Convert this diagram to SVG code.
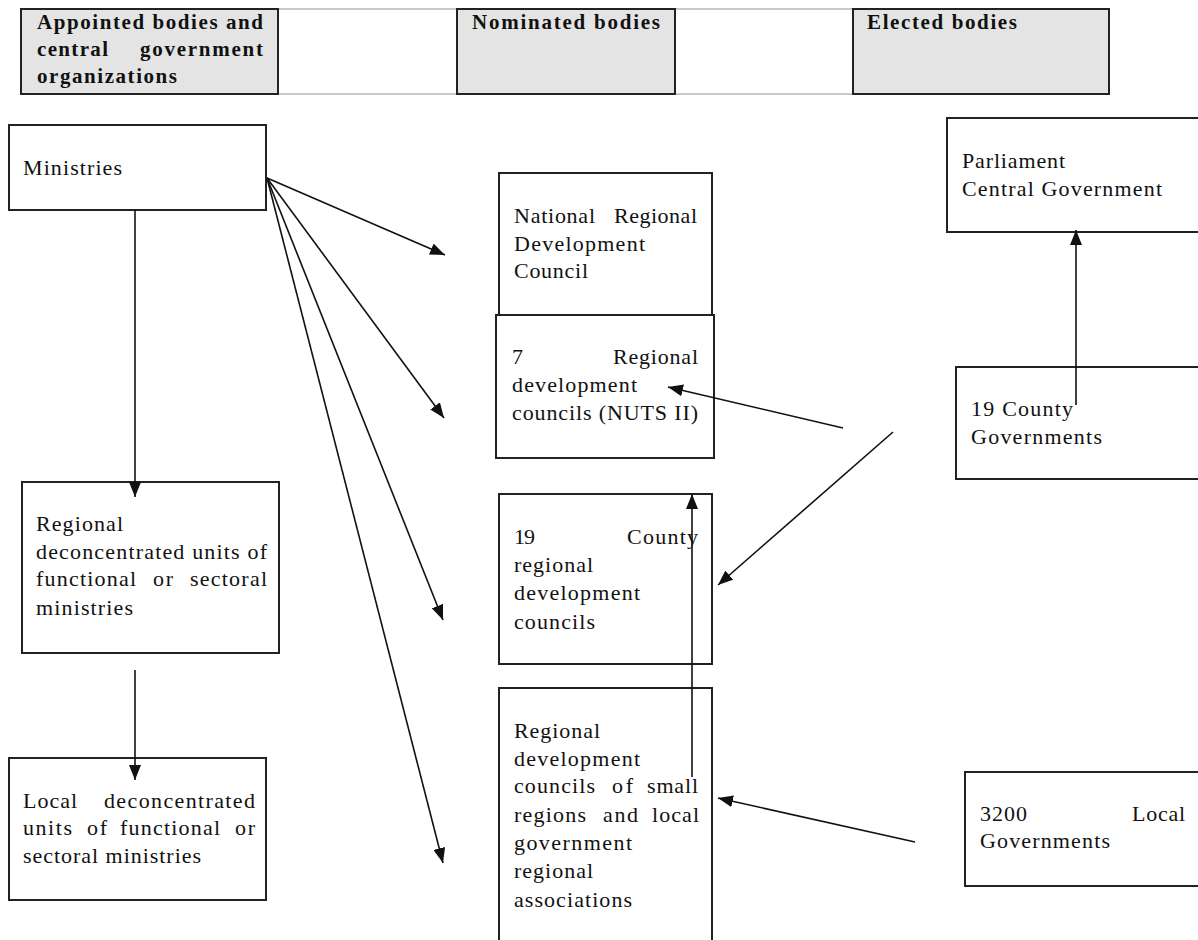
<svg xmlns="http://www.w3.org/2000/svg" width="1198" height="940" viewBox="0 0 1198 940">
<style>
.hdr{fill:#e4e4e4;stroke:#222;stroke-width:2}
.box{fill:#fff;stroke:#222;stroke-width:2}
.gl{stroke:#c8c8c8;stroke-width:2}
.ht{font-family:"Liberation Serif",serif;font-size:21px;font-weight:bold;fill:#111}
.t{font-family:"Liberation Serif",serif;font-size:22px;fill:#111}
.c{stroke:#111;stroke-width:1.6;fill:none;marker-end:url(#ah)}
</style>
<defs>
<marker id="ah" markerUnits="userSpaceOnUse" markerWidth="16" markerHeight="12" refX="15" refY="6" orient="auto">
<path d="M0,0 L15,6 L0,12 z" fill="#111"/>
</marker>
</defs>
<rect width="1198" height="940" fill="#fff"/>
<g id="header-lines">
<line class="gl" x1="278" y1="9" x2="457" y2="9"/>
<line class="gl" x1="278" y1="94" x2="457" y2="94"/>
<line class="gl" x1="675" y1="9" x2="853" y2="9"/>
<line class="gl" x1="675" y1="94" x2="853" y2="94"/>
</g>
<g id="hdr-appointed">
<rect class="hdr" x="21" y="9" width="257" height="85"/>
<text class="ht" x="37" y="29" textLength="226" lengthAdjust="spacing">Appointed bodies and</text>
<text class="ht" x="37" y="56" textLength="71" lengthAdjust="spacing">central</text>
<text class="ht" x="140" y="56" textLength="123" lengthAdjust="spacing">government</text>
<text class="ht" x="37" y="83" textLength="140" lengthAdjust="spacing">organizations</text>
</g>
<g id="hdr-nominated">
<rect class="hdr" x="457" y="9" width="218" height="85"/>
<text class="ht" x="472" y="29" textLength="188" lengthAdjust="spacing">Nominated bodies</text>
</g>
<g id="hdr-elected">
<rect class="hdr" x="853" y="9" width="256" height="85"/>
<text class="ht" x="867" y="29" textLength="150" lengthAdjust="spacing">Elected bodies</text>
</g>
<g id="ministries">
<rect class="box" x="9" y="125" width="257" height="85"/>
<text class="t" x="23" y="175" textLength="99" lengthAdjust="spacing">Ministries</text>
</g>
<g id="regional-deconc">
<rect class="box" x="22" y="482" width="257" height="171"/>
<text class="t" x="36" y="531" textLength="87" lengthAdjust="spacing">Regional</text>
<text class="t" x="36" y="559" textLength="231" lengthAdjust="spacing">deconcentrated units of</text>
<text class="t" x="36" y="586" textLength="100" lengthAdjust="spacing">functional</text>
<text class="t" x="153" y="586" textLength="20" lengthAdjust="spacing">or</text>
<text class="t" x="190" y="586" textLength="77" lengthAdjust="spacing">sectoral</text>
<text class="t" x="36" y="615" textLength="97" lengthAdjust="spacing">ministries</text>
</g>
<g id="local-deconc">
<rect class="box" x="9" y="758" width="257" height="142"/>
<text class="t" x="23" y="808" textLength="54" lengthAdjust="spacing">Local</text>
<text class="t" x="104" y="808" textLength="151" lengthAdjust="spacing">deconcentrated</text>
<text class="t" x="23" y="835" textLength="49" lengthAdjust="spacing">units</text>
<text class="t" x="87" y="835" textLength="20" lengthAdjust="spacing">of</text>
<text class="t" x="120" y="835" textLength="100" lengthAdjust="spacing">functional</text>
<text class="t" x="235" y="835" textLength="20" lengthAdjust="spacing">or</text>
<text class="t" x="23" y="863" textLength="178" lengthAdjust="spacing">sectoral ministries</text>
</g>
<g id="nrdc">
<rect class="box" x="499" y="173" width="213" height="142"/>
<text class="t" x="514" y="223" textLength="81" lengthAdjust="spacing">National</text>
<text class="t" x="614" y="223" textLength="83" lengthAdjust="spacing">Regional</text>
<text class="t" x="514" y="251" textLength="131" lengthAdjust="spacing">Development</text>
<text class="t" x="514" y="278" textLength="74" lengthAdjust="spacing">Council</text>
</g>
<g id="rdc7">
<rect class="box" x="496" y="315" width="218" height="143"/>
<text class="t" x="512" y="364">7</text>
<text class="t" x="613" y="364" textLength="85" lengthAdjust="spacing">Regional</text>
<text class="t" x="512" y="392" textLength="125" lengthAdjust="spacing">development</text>
<text class="t" x="512" y="420" textLength="186" lengthAdjust="spacing">councils (NUTS II)</text>
</g>
<g id="county-rdc">
<rect class="box" x="499" y="494" width="213" height="170"/>
<text class="t" x="514" y="544" textLength="21" lengthAdjust="spacing">19</text>
<text class="t" x="627" y="544" textLength="71" lengthAdjust="spacing">County</text>
<text class="t" x="514" y="572" textLength="79" lengthAdjust="spacing">regional</text>
<text class="t" x="514" y="600" textLength="126" lengthAdjust="spacing">development</text>
<text class="t" x="514" y="629" textLength="81" lengthAdjust="spacing">councils</text>
</g>
<g id="small-regions">
<rect class="box" x="499" y="688" width="213" height="280"/>
<text class="t" x="514" y="738" textLength="86" lengthAdjust="spacing">Regional</text>
<text class="t" x="514" y="766" textLength="126" lengthAdjust="spacing">development</text>
<text class="t" x="514" y="793" textLength="81" lengthAdjust="spacing">councils</text>
<text class="t" x="612" y="793" textLength="21" lengthAdjust="spacing">of</text>
<text class="t" x="647" y="793" textLength="51" lengthAdjust="spacing">small</text>
<text class="t" x="514" y="822" textLength="72" lengthAdjust="spacing">regions</text>
<text class="t" x="603" y="822" textLength="35" lengthAdjust="spacing">and</text>
<text class="t" x="652" y="822" textLength="47" lengthAdjust="spacing">local</text>
<text class="t" x="514" y="850" textLength="118" lengthAdjust="spacing">government</text>
<text class="t" x="514" y="878" textLength="79" lengthAdjust="spacing">regional</text>
<text class="t" x="514" y="907" textLength="118" lengthAdjust="spacing">associations</text>
</g>
<g id="parliament">
<rect class="box" x="947" y="118" width="270" height="114"/>
<text class="t" x="962" y="168" textLength="103" lengthAdjust="spacing">Parliament</text>
<text class="t" x="962" y="196" textLength="200" lengthAdjust="spacing">Central Government</text>
</g>
<g id="county-gov">
<rect class="box" x="956" y="367" width="260" height="112"/>
<text class="t" x="971" y="416" textLength="102" lengthAdjust="spacing">19 County</text>
<text class="t" x="971" y="444" textLength="131" lengthAdjust="spacing">Governments</text>
</g>
<g id="local-gov">
<rect class="box" x="965" y="772" width="250" height="114"/>
<text class="t" x="980" y="821" textLength="47" lengthAdjust="spacing">3200</text>
<text class="t" x="1132" y="821" textLength="53" lengthAdjust="spacing">Local</text>
<text class="t" x="980" y="848" textLength="130" lengthAdjust="spacing">Governments</text>
</g>
<g id="connectors">
<line class="c" x1="135" y1="210" x2="135" y2="497"/>
<line class="c" x1="135" y1="670" x2="135" y2="780"/>
<line class="c" x1="267" y1="178" x2="445" y2="255"/>
<line class="c" x1="267" y1="178" x2="444" y2="418"/>
<line class="c" x1="267" y1="178" x2="443" y2="620"/>
<line class="c" x1="267" y1="178" x2="443" y2="863"/>
<line class="c" x1="843" y1="428" x2="668" y2="387"/>
<line class="c" x1="893" y1="432" x2="718" y2="585"/>
<line class="c" x1="915" y1="842" x2="718" y2="798"/>
<line class="c" x1="692" y1="777" x2="692" y2="494"/>
<line class="c" x1="1076" y1="405" x2="1076" y2="230"/>
</g>
</svg>
